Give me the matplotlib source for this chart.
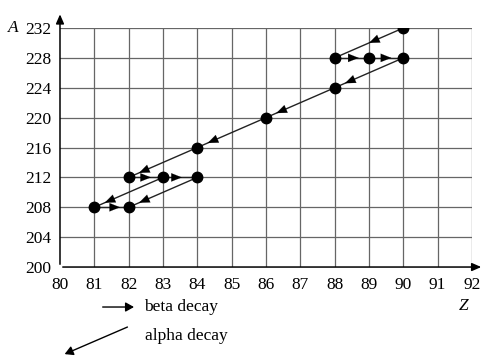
import matplotlib.pyplot as plt
from matplotlib.patches import FancyArrowPatch

plt.rcParams['font.family'] = ['Liberation Serif', 'DejaVu Serif']

# nuclides in the chain (Z, A)
z_vals = [90, 88, 89, 90, 88, 86, 84, 82, 83, 84, 81, 82]
a_vals = [232, 228, 228, 228, 224, 220, 216, 212, 212, 212, 208, 208]

# decays: (from index, to index, kind, arrowhead position along segment)
decays = [
    (0, 1, 'alpha', 0.5),
    (1, 2, 'beta', 0.7),
    (2, 3, 'beta', 0.65),
    (3, 4, 'alpha', 0.85),
    (4, 5, 'alpha', 0.85),
    (5, 6, 'alpha', 0.85),
    (6, 7, 'alpha', 0.85),
    (7, 8, 'beta', 0.65),
    (8, 9, 'beta', 0.55),
    (8, 10, 'alpha', 0.85),
    (10, 11, 'beta', 0.75),
    (9, 11, 'alpha', 0.85),
]

x_ticks = list(range(80, 93))
y_ticks = list(range(200, 233, 4))

fig = plt.figure(figsize=(4.85, 3.57), dpi=100)
ax = fig.add_axes([0.1237, 0.252, 0.8495, 0.6696])
ax.set_xlim(80, 92)
ax.set_ylim(200, 232)
for s in ax.spines.values():
    s.set_visible(False)

# grid
for x in x_ticks[1:]:
    ax.plot([x, x], [200, 232], color='#666666', lw=0.9, zorder=1)
for y in y_ticks[1:]:
    ax.plot([80, 92], [y, y], color='#666666', lw=0.9, zorder=1)

# axes with arrows
head = '-|>,head_length=0.55,head_width=0.24'
ax.annotate('', xy=(80, 234.2), xytext=(80, 200), annotation_clip=False,
            arrowprops=dict(arrowstyle=head, color='black', lw=1.1))
ax.annotate('', xy=(92.35, 200), xytext=(80, 200), annotation_clip=False,
            arrowprops=dict(arrowstyle=head, color='black', lw=1.1))

ax.set_xticks(x_ticks)
ax.set_yticks(y_ticks)
ax.tick_params(axis='x', length=0, labelsize=12.5, pad=7)
ax.tick_params(axis='y', length=0, labelsize=12.5, pad=6)
ax.text(-0.1, 1.0, 'A', transform=ax.transAxes, ha='right', va='center',
        fontsize=12.5, style='italic')
ax.text(91.75, 194.8, 'Z', ha='center', va='center', fontsize=12.5, style='italic')

# decay lines and arrowheads
for i, j, kind, f in decays:
    x0, y0 = z_vals[i], a_vals[i]
    x1, y1 = z_vals[j], a_vals[j]
    ax.plot([x0, x1], [y0, y1], color='#222222', lw=1.0, zorder=2)
    tx, ty = x0 + f * (x1 - x0), y0 + f * (y1 - y0)
    sx, sy = x0 + (f - 0.05) * (x1 - x0), y0 + (f - 0.05) * (y1 - y0)
    ax.annotate('', xy=(tx, ty), xytext=(sx, sy),
                arrowprops=dict(arrowstyle='-|>,head_length=0.75,head_width=0.3',
                                color='black', lw=0.1, shrinkA=0, shrinkB=0), zorder=3)

ax.plot(z_vals, a_vals, 'o', color='black', ms=7.5, zorder=4)

# legend
fig.text(0.298, 0.14, 'beta decay', fontsize=12.5, va='center')
fig.text(0.298, 0.06, 'alpha decay', fontsize=12.5, va='center')
fig.add_artist(FancyArrowPatch(
    (0.206, 0.14), (0.282, 0.14), transform=fig.transFigure,
    arrowstyle='-|>,head_length=5,head_width=2.8', color='black', lw=1.0))
fig.add_artist(FancyArrowPatch(
    (0.268, 0.087), (0.128, 0.005), transform=fig.transFigure,
    arrowstyle='-|>,head_length=5,head_width=2.8', color='black', lw=1.0))

fig.savefig('out.png', dpi=100)
